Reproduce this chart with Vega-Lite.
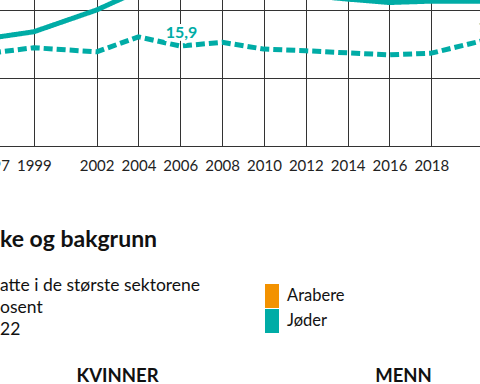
{
  "$schema": "https://vega.github.io/schema/vega-lite/v6.json",
  "padding": {"left": -26, "top": -58, "right": 0, "bottom": 0},
  "background": "white",
  "spacing": 56,
  "config": {
    "view": {"stroke": null},
    "font": "Lato",
    "legend": {
      "orient": "none",
      "legendX": 268,
      "legendY": 342,
      "padding": 0,
      "symbolType": "M-0.583,-1H0.583V1H-0.583Z",
      "symbolSize": 576,
      "symbolStrokeWidth": 0,
      "rowPadding": 1,
      "labelOffset": 3,
      "labelFont": "Lato",
      "labelFontSize": 16.5,
      "labelColor": "#111",
      "title": null
    }
  },
  "datasets": {
    "linjer": [
      {"aar": 1997, "verdi": 15.9, "serie": "heltrukken"},
      {"aar": 1999, "verdi": 16.8, "serie": "heltrukken"},
      {"aar": 2002, "verdi": 20.0, "serie": "heltrukken"},
      {"aar": 2004, "verdi": 22.8, "serie": "heltrukken"},
      {"aar": 2006, "verdi": 23.5, "serie": "heltrukken"},
      {"aar": 2008, "verdi": 23.3, "serie": "heltrukken"},
      {"aar": 2010, "verdi": 22.8, "serie": "heltrukken"},
      {"aar": 2012, "verdi": 22.2, "serie": "heltrukken"},
      {"aar": 2014, "verdi": 21.6, "serie": "heltrukken"},
      {"aar": 2016, "verdi": 21.1, "serie": "heltrukken"},
      {"aar": 2018, "verdi": 21.3, "serie": "heltrukken"},
      {"aar": 2021, "verdi": 21.3, "serie": "heltrukken"},
      {"aar": 1997, "verdi": 13.7, "serie": "stiplet"},
      {"aar": 1999, "verdi": 14.45, "serie": "stiplet"},
      {"aar": 2002, "verdi": 13.85, "serie": "stiplet"},
      {"aar": 2004, "verdi": 16.05, "serie": "stiplet"},
      {"aar": 2006, "verdi": 14.7, "serie": "stiplet"},
      {"aar": 2008, "verdi": 15.25, "serie": "stiplet"},
      {"aar": 2010, "verdi": 14.25, "serie": "stiplet"},
      {"aar": 2012, "verdi": 14.0, "serie": "stiplet"},
      {"aar": 2014, "verdi": 13.7, "serie": "stiplet"},
      {"aar": 2016, "verdi": 13.4, "serie": "stiplet"},
      {"aar": 2018, "verdi": 13.65, "serie": "stiplet"},
      {"aar": 2021, "verdi": 15.9, "serie": "stiplet"}
    ],
    "etikett1": [{"aar": 2004, "verdi": 15.9, "tekst": "15,9"}],
    "etikett2": [{"aar": 2021, "verdi": 15.9, "tekst": "15,9"}],
    "grupper": [
      {"kjonn": "KVINNER", "gruppe": "Arabere"},
      {"kjonn": "KVINNER", "gruppe": "Jøder"},
      {"kjonn": "MENN", "gruppe": "Arabere"},
      {"kjonn": "MENN", "gruppe": "Jøder"}
    ]
  },
  "vconcat": [
    {
      "width": 523,
      "height": 204,
      "encoding": {
        "x": {
          "field": "aar",
          "type": "quantitative",
          "scale": {"domain": [1997, 2022], "nice": false, "zero": false},
          "axis": {
            "values": [1997, 1999, 2002, 2004, 2006, 2008, 2010, 2012, 2014, 2016, 2018],
            "format": "d",
            "grid": true,
            "gridColor": "#333333",
            "gridWidth": 1,
            "gridOpacity": 1,
            "domain": false,
            "ticks": false,
            "labelPadding": 12,
            "labelFont": "Lato",
            "labelFontSize": 15,
            "labelColor": "#222",
            "labelFlush": false,
            "labelOverlap": false,
            "title": null
          }
        },
        "y": {
          "field": "verdi",
          "type": "quantitative",
          "scale": {"domain": [0, 30], "nice": false},
          "axis": {
            "values": [0, 10, 20, 30],
            "grid": true,
            "gridColor": "#333333",
            "gridWidth": 1,
            "gridOpacity": 1,
            "labels": false,
            "ticks": false,
            "domain": false,
            "title": null
          }
        }
      },
      "layer": [
        {
          "data": {"name": "linjer"},
          "mark": {"type": "line", "strokeWidth": 5, "color": "#00aca6", "strokeCap": "butt", "strokeJoin": "round"},
          "encoding": {
            "detail": {"field": "serie"},
            "strokeDash": {
              "field": "serie",
              "type": "nominal",
              "scale": {"domain": ["heltrukken", "stiplet"], "range": [[1, 0], [9, 4]]},
              "legend": null
            }
          }
        },
        {
          "data": {"name": "etikett1"},
          "mark": {"type": "text", "dx": 43, "dy": -5, "font": "Lato", "fontSize": 16, "fontWeight": "bold", "fill": "white", "stroke": "white", "strokeWidth": 6, "align": "center", "baseline": "middle"},
          "encoding": {"text": {"field": "tekst"}}
        },
        {
          "data": {"name": "etikett1"},
          "mark": {"type": "text", "dx": 43, "dy": -5, "font": "Lato", "fontSize": 16, "fontWeight": "bold", "color": "#00aca6", "align": "center", "baseline": "middle"},
          "encoding": {"text": {"field": "tekst"}}
        },
        {
          "data": {"name": "etikett2"},
          "mark": {"type": "text", "dx": 0, "dy": -11, "font": "Lato", "fontSize": 16, "fontWeight": "bold", "color": "#00aca6", "align": "center", "baseline": "middle"},
          "encoding": {"text": {"field": "tekst"}}
        }
      ]
    },
    {
      "data": {"name": "grupper"},
      "title": {
        "text": "ke og bakgrunn",
        "subtitle": ["atte i de største sektorene", "osent", " 22"],
        "anchor": "start",
        "frame": "group",
        "dx": 8,
        "font": "Lato",
        "fontSize": 23,
        "fontWeight": "bold",
        "color": "#111",
        "subtitleFont": "Lato",
        "subtitleFontSize": 17.5,
        "subtitleLineHeight": 22,
        "subtitleColor": "#111",
        "subtitlePadding": 25,
        "offset": 28
      },
      "facet": {
        "column": {
          "field": "kjonn",
          "type": "nominal",
          "sort": ["KVINNER", "MENN"],
          "title": null,
          "header": {
            "labelFont": "Lato",
            "labelFontSize": 18.5,
            "labelFontWeight": "bold",
            "labelColor": "#111",
            "labelPadding": 14
          }
        }
      },
      "spacing": 35,
      "spec": {
        "width": 251,
        "height": 40,
        "mark": {"type": "bar"},
        "encoding": {
          "x": {"field": "gruppe", "type": "nominal", "axis": null},
          "color": {
            "field": "gruppe",
            "type": "nominal",
            "scale": {"domain": ["Arabere", "Jøder"], "range": ["#f39200", "#00aca6"]}
          }
        }
      }
    }
  ]
}
